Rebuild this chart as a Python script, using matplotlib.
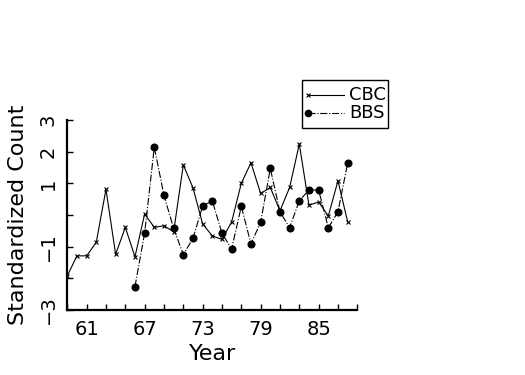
import matplotlib
matplotlib.use("Agg")
import matplotlib.pyplot as plt
from matplotlib.lines import Line2D

# Data
cbc_years = list(range(59, 89))
cbc_values = [-1.92, -1.29, -1.29, -0.86, 0.81, -1.24, -0.39, -1.32, 0.03, -0.39,
              -0.34, -0.53, 1.58, 0.86, -0.28, -0.66, -0.77, -0.22, 1.00, 1.65,
              0.68, 0.87, 0.13, 0.87, 2.24, 0.31, 0.41, -0.03, 1.08, -0.21]

bbs_years = list(range(66, 89))
bbs_values = [-2.26, -0.57, 2.14, 0.62, -0.42, -1.25, -0.74, 0.28, 0.45, -0.58,
              -1.07, 0.27, -0.91, -0.23, 1.47, 0.10, -0.40, 0.45, 0.79, 0.79,
              -0.40, 0.10, 1.64]

x_ticks = list(range(59, 90, 2))
x_labels = ["61", "67", "73", "79", "85"]
y_ticks = [-3, -2, -1, 0, 1, 2, 3]
y_labels = ["\u22123", "", "\u22121", "", "1", "2", "3"]

plt.rcParams["font.family"] = "DejaVu Sans"

fig = plt.figure(figsize=(5.25, 3.75), dpi=100)
ax = fig.add_axes([67.3 / 525, 65 / 375, 290 / 525, 190 / 375])

ax.plot(cbc_years, cbc_values, color="black", linewidth=0.8,
        marker="x", markersize=3.5, markeredgewidth=0.8)
ax.plot(bbs_years, bbs_values, color="black", linewidth=0.8, linestyle="-.",
        marker="o", markersize=4.8)

ax.set_xlim(59, 89)
ax.set_ylim(-3, 3)
ax.set_xticks(x_ticks)
ax.set_xticklabels([str(t) if str(t) in x_labels else "" for t in x_ticks])
ax.set_yticks(y_ticks)
ax.set_yticklabels(y_labels, rotation=90, va="center")

ax.spines["top"].set_visible(False)
ax.spines["right"].set_visible(False)
ax.spines["left"].set_linewidth(1.6)
ax.spines["bottom"].set_linewidth(1.6)
ax.tick_params(direction="in", length=4, width=1, labelsize=14, pad=7)

ax.set_xlabel("Year", fontsize=16)
ax.set_ylabel("Standardized Count", fontsize=16)
ax.xaxis.set_label_coords(0.5, -0.18)
ax.yaxis.set_label_coords(-0.135, 0.5)

# legend box drawn by hand in figure pixels
def fx(px):
    return px / 525

def fy(py):
    return 1 - py / 375

fig.patches.append(plt.Rectangle((fx(302), fy(128)), fx(86), 48 / 375,
                                 fill=False, edgecolor="black", linewidth=1,
                                 transform=fig.transFigure))
fig.lines.append(Line2D([fx(308), fx(344)], [fy(95), fy(95)], color="black",
                        linewidth=0.8, transform=fig.transFigure))
fig.lines.append(Line2D([fx(308)], [fy(95)], color="black", marker="x",
                        markersize=3, markeredgewidth=0.8, transform=fig.transFigure))
fig.lines.append(Line2D([fx(308), fx(344)], [fy(113), fy(113)], color="black",
                        linewidth=0.8, linestyle="-.", transform=fig.transFigure))
fig.lines.append(Line2D([fx(308)], [fy(113)], color="black", marker="o",
                        markersize=4.5, transform=fig.transFigure))
fig.text(fx(349), fy(95), "CBC", fontsize=13, va="center")
fig.text(fx(349), fy(113), "BBS", fontsize=13, va="center")

fig.savefig("out.png", dpi=100)
